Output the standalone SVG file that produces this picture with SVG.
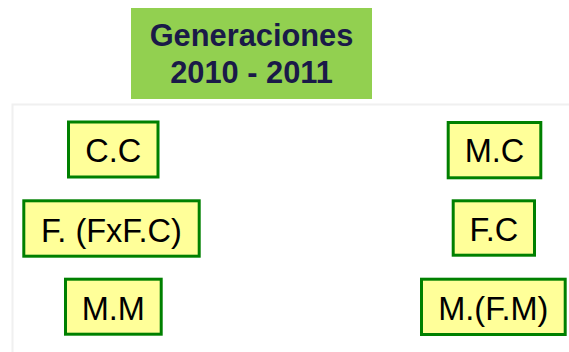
<svg xmlns="http://www.w3.org/2000/svg" width="569" height="352" viewBox="0 0 569 352">
<style>
.box{fill:#ffff99;stroke:#008000;stroke-width:3}
.lbl{font-family:"Liberation Sans",Arial,sans-serif;font-size:32.5px;fill:#000;text-anchor:middle}
.title{font-family:"Liberation Sans",Arial,sans-serif;font-size:30.8px;font-weight:bold;fill:#1a1a48;text-anchor:middle}
</style>
<rect width="569" height="352" fill="#ffffff"/>
<rect x="12.5" y="104.5" width="600" height="300" fill="none" stroke="#f0f0f0" stroke-width="2"/>
<g id="title">
<rect x="131" y="8" width="241" height="91" fill="#92d050"/>
<text class="title" x="251.5" y="46">Generaciones</text>
<text class="title" x="251.5" y="83">2010 - 2011</text>
</g>
<g id="connectors"></g>
<g id="node-cc">
<rect class="box" x="68.5" y="122" width="89.5" height="55"/>
<text class="lbl" x="113.2" y="162">C.C</text>
</g>
<g id="node-ffxfc">
<rect class="box" x="23.8" y="200.8" width="175.4" height="55.4"/>
<text class="lbl" x="111.5" y="241.5">F. (FxF.C)</text>
</g>
<g id="node-mm">
<rect class="box" x="65.5" y="279.2" width="95.7" height="55"/>
<text class="lbl" x="113.3" y="319.5">M.M</text>
</g>
<g id="node-mc">
<rect class="box" x="448.2" y="122.5" width="92.6" height="55.3"/>
<text class="lbl" x="494.5" y="162">M.C</text>
</g>
<g id="node-fc">
<rect class="box" x="453.2" y="200.8" width="81.3" height="54.4"/>
<text class="lbl" x="493.9" y="241">F.C</text>
</g>
<g id="node-mfm">
<rect class="box" x="421.5" y="279.2" width="143.7" height="55.3"/>
<text class="lbl" x="493.3" y="319.5">M.(F.M)</text>
</g>
</svg>
